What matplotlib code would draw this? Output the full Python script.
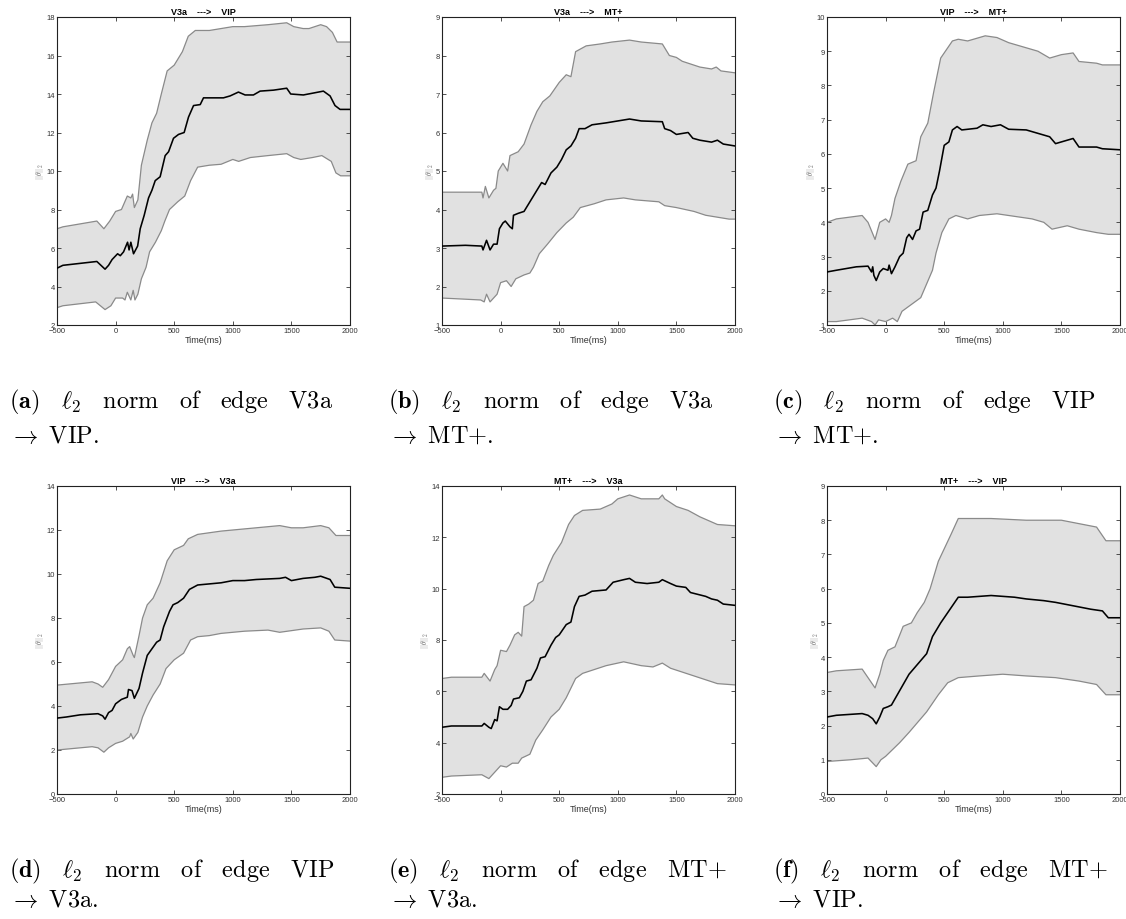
import numpy as np
import matplotlib
matplotlib.use("Agg")
import matplotlib.pyplot as plt

# data: [time (ms), ||theta||_2]
a_mean = [[-500, 4.95], [-450, 5.1], [-160, 5.3], [-90, 4.9], [-60, 5.1], [-30, 5.4], [17, 5.7], [40, 5.6],
          [68, 5.8], [102, 6.3], [115, 5.9], [130, 6.3], [153, 5.7], [188, 6.1], [210, 7.0], [244, 7.7],
          [281, 8.6], [310, 9.0], [338, 9.5], [380, 9.7], [423, 10.8], [452, 11.0], [494, 11.7], [537, 11.9],
          [585, 12.0], [622, 12.8], [665, 13.4], [722, 13.45], [750, 13.8], [920, 13.8], [977, 13.9],
          [1048, 14.1], [1105, 13.95], [1176, 13.95], [1233, 14.15], [1347, 14.2], [1460, 14.3], [1494, 14.0],
          [1602, 13.95], [1688, 14.05], [1773, 14.15], [1830, 13.9], [1872, 13.4], [1915, 13.2], [2000, 13.2]]
a_up = [[-500, 7.0], [-450, 7.1], [-160, 7.4], [-100, 7.0], [-50, 7.4], [0, 7.9], [50, 8.0], [100, 8.7],
        [130, 8.6], [145, 8.8], [160, 8.1], [190, 8.5], [220, 10.3], [270, 11.6], [310, 12.5], [350, 13.0],
        [390, 14.0], [440, 15.2], [500, 15.5], [570, 16.2], [620, 17.0], [680, 17.3], [800, 17.3], [900, 17.4],
        [1000, 17.5], [1100, 17.5], [1300, 17.6], [1460, 17.7], [1520, 17.5], [1600, 17.4], [1650, 17.4],
        [1750, 17.6], [1800, 17.5], [1850, 17.2], [1890, 16.7], [2000, 16.7]]
a_lo = [[-500, 2.9], [-450, 3.0], [-170, 3.2], [-90, 2.8], [-40, 3.0], [0, 3.4], [60, 3.4], [80, 3.3],
        [100, 3.7], [130, 3.3], [150, 3.8], [165, 3.3], [190, 3.6], [220, 4.4], [260, 5.0], [290, 5.8],
        [340, 6.3], [390, 6.9], [420, 7.4], [460, 8.0], [530, 8.4], [590, 8.7], [640, 9.5], [700, 10.2],
        [800, 10.3], [900, 10.35], [1000, 10.6], [1050, 10.5], [1150, 10.7], [1300, 10.8], [1460, 10.9],
        [1520, 10.7], [1580, 10.6], [1680, 10.7], [1760, 10.8], [1840, 10.5], [1880, 9.9], [1920, 9.75],
        [2000, 9.75]]

b_mean = [[-500, 3.05], [-300, 3.07], [-160, 3.05], [-150, 2.95], [-120, 3.2], [-90, 2.95], [-60, 3.1],
          [-30, 3.1], [-10, 3.5], [20, 3.65], [40, 3.7], [80, 3.55], [100, 3.5], [110, 3.85], [150, 3.9],
          [200, 3.95], [250, 4.2], [270, 4.3], [310, 4.5], [350, 4.7], [380, 4.65], [430, 4.95], [480, 5.1],
          [520, 5.3], [560, 5.55], [600, 5.65], [640, 5.85], [670, 6.1], [720, 6.1], [780, 6.2], [900, 6.25],
          [1000, 6.3], [1100, 6.35], [1200, 6.3], [1380, 6.28], [1400, 6.1], [1450, 6.05], [1500, 5.95],
          [1600, 6.0], [1640, 5.85], [1700, 5.8], [1800, 5.75], [1850, 5.8], [1900, 5.7], [2000, 5.65]]
b_up = [[-500, 4.45], [-160, 4.45], [-150, 4.3], [-130, 4.6], [-100, 4.3], [-60, 4.5], [-40, 4.55],
        [-20, 5.0], [20, 5.2], [60, 5.0], [80, 5.4], [150, 5.5], [200, 5.7], [260, 6.2], [310, 6.55],
        [360, 6.8], [420, 6.95], [500, 7.3], [560, 7.5], [600, 7.45], [640, 8.1], [730, 8.25], [850, 8.3],
        [950, 8.35], [1100, 8.4], [1200, 8.35], [1380, 8.3], [1440, 8.0], [1500, 7.95], [1550, 7.85],
        [1600, 7.8], [1700, 7.7], [1800, 7.65], [1840, 7.7], [1880, 7.6], [2000, 7.55]]
b_lo = [[-500, 1.7], [-300, 1.67], [-170, 1.65], [-140, 1.6], [-120, 1.8], [-90, 1.6], [-60, 1.7],
        [-30, 1.8], [0, 2.1], [50, 2.15], [90, 2.0], [130, 2.2], [200, 2.3], [250, 2.35], [280, 2.5],
        [330, 2.85], [400, 3.1], [480, 3.4], [560, 3.65], [620, 3.8], [680, 4.05], [800, 4.15], [900, 4.25],
        [1050, 4.3], [1150, 4.25], [1350, 4.2], [1400, 4.1], [1500, 4.05], [1650, 3.95], [1750, 3.85],
        [1850, 3.8], [1950, 3.75], [2000, 3.75]]

c_mean = [[-500, 2.55], [-420, 2.6], [-250, 2.7], [-150, 2.72], [-120, 2.55], [-110, 2.7], [-100, 2.45],
          [-80, 2.3], [-50, 2.55], [-20, 2.65], [20, 2.6], [30, 2.75], [50, 2.5], [80, 2.7], [120, 3.0],
          [150, 3.1], [180, 3.55], [200, 3.65], [230, 3.5], [260, 3.75], [290, 3.8], [320, 4.3], [360, 4.35],
          [400, 4.8], [430, 5.0], [460, 5.5], [500, 6.25], [540, 6.35], [570, 6.7], [610, 6.8], [650, 6.7],
          [780, 6.75], [830, 6.85], [900, 6.8], [980, 6.85], [1050, 6.72], [1200, 6.7], [1300, 6.6],
          [1400, 6.5], [1450, 6.3], [1550, 6.4], [1600, 6.45], [1650, 6.2], [1800, 6.2], [1850, 6.15],
          [2000, 6.12]]
c_up = [[-500, 4.0], [-420, 4.1], [-200, 4.2], [-150, 4.0], [-90, 3.5], [-50, 4.0], [0, 4.1], [30, 4.0],
        [50, 4.2], [80, 4.7], [130, 5.2], [190, 5.7], [260, 5.8], [300, 6.5], [360, 6.9], [410, 7.8],
        [470, 8.8], [570, 9.3], [620, 9.35], [700, 9.3], [850, 9.45], [950, 9.4], [1050, 9.25], [1100, 9.2],
        [1200, 9.1], [1300, 9.0], [1400, 8.8], [1500, 8.9], [1600, 8.95], [1650, 8.7], [1800, 8.65],
        [1850, 8.6], [2000, 8.6]]
c_lo = [[-500, 1.1], [-420, 1.1], [-200, 1.2], [-120, 1.1], [-90, 1.0], [-60, 1.15], [0, 1.1], [60, 1.2],
        [100, 1.1], [140, 1.4], [220, 1.6], [300, 1.8], [350, 2.2], [400, 2.6], [430, 3.1], [480, 3.7],
        [540, 4.1], [600, 4.2], [700, 4.1], [800, 4.2], [950, 4.25], [1050, 4.2], [1150, 4.15], [1250, 4.1],
        [1350, 4.0], [1420, 3.8], [1550, 3.9], [1650, 3.8], [1800, 3.7], [1900, 3.65], [2000, 3.65]]

d_mean = [[-500, 3.45], [-420, 3.5], [-300, 3.6], [-150, 3.65], [-110, 3.55], [-90, 3.4], [-60, 3.7],
          [-30, 3.8], [0, 4.1], [50, 4.3], [100, 4.4], [110, 4.75], [140, 4.7], [160, 4.35], [200, 4.8],
          [230, 5.5], [270, 6.3], [310, 6.6], [350, 6.9], [380, 7.0], [410, 7.6], [460, 8.3], [490, 8.6],
          [530, 8.7], [580, 8.9], [630, 9.3], [700, 9.5], [800, 9.55], [900, 9.6], [1000, 9.7], [1100, 9.7],
          [1200, 9.75], [1400, 9.8], [1450, 9.85], [1500, 9.7], [1600, 9.8], [1700, 9.85], [1750, 9.9],
          [1830, 9.75], [1870, 9.4], [2000, 9.35]]
d_up = [[-500, 4.95], [-400, 5.0], [-200, 5.1], [-150, 5.0], [-110, 4.85], [-60, 5.2], [0, 5.8], [60, 6.1],
        [100, 6.6], [120, 6.7], [150, 6.3], [160, 6.2], [200, 7.2], [230, 8.0], [270, 8.6], [320, 8.9],
        [380, 9.6], [440, 10.6], [500, 11.1], [580, 11.3], [620, 11.6], [700, 11.8], [900, 11.95],
        [1000, 12.0], [1200, 12.1], [1400, 12.2], [1500, 12.1], [1600, 12.1], [1750, 12.2], [1820, 12.1],
        [1880, 11.75], [2000, 11.75]]
d_lo = [[-500, 2.0], [-400, 2.05], [-200, 2.15], [-150, 2.1], [-100, 1.9], [-60, 2.1], [0, 2.3], [60, 2.4],
        [120, 2.6], [130, 2.75], [150, 2.5], [190, 2.8], [230, 3.5], [270, 4.0], [320, 4.5], [380, 5.0],
        [430, 5.7], [500, 6.1], [580, 6.4], [640, 7.0], [700, 7.15], [800, 7.2], [900, 7.3], [1100, 7.4],
        [1300, 7.45], [1400, 7.35], [1600, 7.5], [1750, 7.55], [1820, 7.4], [1870, 7.0], [2000, 6.95]]

e_mean = [[-500, 4.6], [-420, 4.65], [-160, 4.65], [-140, 4.75], [-100, 4.6], [-80, 4.55], [-50, 4.9],
          [-30, 4.85], [-10, 5.4], [20, 5.3], [60, 5.3], [90, 5.45], [110, 5.7], [160, 5.75], [190, 6.0],
          [220, 6.4], [260, 6.45], [310, 6.9], [340, 7.3], [380, 7.35], [430, 7.8], [470, 8.1], [500, 8.2],
          [560, 8.6], [600, 8.7], [630, 9.3], [670, 9.7], [720, 9.75], [780, 9.9], [900, 9.95], [960, 10.25],
          [1050, 10.35], [1100, 10.4], [1150, 10.25], [1250, 10.2], [1350, 10.25], [1380, 10.35],
          [1450, 10.2], [1500, 10.1], [1580, 10.05], [1620, 9.85], [1750, 9.7], [1800, 9.6], [1850, 9.55],
          [1900, 9.4], [2000, 9.35]]
e_up = [[-500, 6.5], [-420, 6.55], [-160, 6.55], [-140, 6.7], [-90, 6.4], [-50, 6.85], [-30, 7.0],
        [0, 7.6], [50, 7.55], [80, 7.8], [120, 8.2], [150, 8.3], [180, 8.15], [200, 9.3], [240, 9.4],
        [280, 9.55], [320, 10.2], [360, 10.3], [410, 10.9], [450, 11.3], [520, 11.8], [580, 12.5],
        [630, 12.85], [700, 13.05], [850, 13.1], [950, 13.3], [1000, 13.5], [1100, 13.65], [1200, 13.5],
        [1350, 13.5], [1380, 13.65], [1400, 13.5], [1500, 13.2], [1600, 13.05], [1700, 12.8], [1800, 12.6],
        [1850, 12.5], [2000, 12.45]]
e_lo = [[-500, 2.65], [-420, 2.7], [-160, 2.75], [-100, 2.6], [-50, 2.85], [0, 3.1], [50, 3.05], [100, 3.2],
        [150, 3.2], [180, 3.4], [250, 3.55], [300, 4.1], [360, 4.5], [430, 5.0], [500, 5.3], [560, 5.75],
        [640, 6.5], [700, 6.7], [800, 6.85], [900, 7.0], [1050, 7.15], [1200, 7.0], [1300, 6.95],
        [1380, 7.1], [1450, 6.9], [1550, 6.75], [1650, 6.6], [1750, 6.45], [1850, 6.3], [2000, 6.25]]

f_mean = [[-500, 2.25], [-420, 2.3], [-200, 2.35], [-150, 2.3], [-110, 2.2], [-80, 2.05], [-50, 2.25],
          [-20, 2.5], [20, 2.55], [50, 2.6], [100, 2.9], [150, 3.2], [200, 3.5], [250, 3.7], [300, 3.9],
          [350, 4.1], [400, 4.6], [470, 5.0], [530, 5.3], [620, 5.75], [700, 5.75], [900, 5.8], [1100, 5.75],
          [1200, 5.7], [1350, 5.65], [1450, 5.6], [1600, 5.5], [1750, 5.4], [1850, 5.35], [1900, 5.15],
          [2000, 5.15]]
f_up = [[-500, 3.55], [-420, 3.6], [-200, 3.65], [-150, 3.4], [-90, 3.1], [-50, 3.5], [-20, 3.9], [20, 4.2],
        [80, 4.3], [150, 4.9], [220, 5.0], [270, 5.3], [330, 5.6], [380, 6.0], [450, 6.8], [560, 7.6],
        [620, 8.05], [900, 8.05], [1200, 8.0], [1500, 8.0], [1650, 7.9], [1800, 7.8], [1880, 7.4],
        [2000, 7.4]]
f_lo = [[-500, 0.95], [-300, 1.0], [-150, 1.05], [-80, 0.8], [-40, 1.0], [0, 1.1], [60, 1.3], [120, 1.5],
        [200, 1.8], [250, 2.0], [350, 2.4], [450, 2.9], [530, 3.25], [620, 3.4], [800, 3.45], [1000, 3.5],
        [1200, 3.45], [1450, 3.4], [1650, 3.3], [1800, 3.2], [1880, 2.9], [2000, 2.9]]

titles = ["V3a    --->    VIP", "V3a    --->    MT+", "VIP    --->    MT+",
          "VIP    --->    V3a", "MT+    --->    V3a", "MT+    --->    VIP"]
ylims = [(2, 18), (1, 9), (1, 10), (0, 14), (2, 14), (0, 9)]
yticks = [range(2, 19, 2), range(1, 10), range(1, 11), range(0, 15, 2), range(2, 15, 2), range(0, 10)]
xticks = [-500, 0, 500, 1000, 1500, 2000]
captions = [("a", "V3a", "VIP"), ("b", "V3a", "MT{+}"), ("c", "VIP", "MT{+}"),
            ("d", "VIP", "V3a"), ("e", "MT{+}", "V3a"), ("f", "MT{+}", "VIP")]
series = [(a_mean, a_up, a_lo), (b_mean, b_up, b_lo), (c_mean, c_up, c_lo),
          (d_mean, d_up, d_lo), (e_mean, e_up, e_lo), (f_mean, f_up, f_lo)]

plt.rcParams['mathtext.fontset'] = 'cm'
axfont = ['Liberation Sans Narrow', 'Liberation Sans', 'DejaVu Sans']

W, H = 1126, 920
fig = plt.figure(figsize=(W / 100, H / 100), dpi=100)

lefts = [57, 442, 827]
tops = [18, 487]
aw, ah = 293, 308
cap_x = [9, 388, 773]
cap_y = [(408, 443), (877, 907)]

for i in range(6):
    row, col = divmod(i, 3)
    ax = fig.add_axes([lefts[col] / W, 1 - (tops[row] + ah) / H, aw / W, ah / H])
    mean, up, lo = [np.array(s, dtype=float) for s in series[i]]

    # shaded band between lower and upper bound
    ax.fill(np.concatenate([up[:, 0], lo[::-1, 0]]), np.concatenate([up[:, 1], lo[::-1, 1]]),
            color='#e1e1e1', lw=0, zorder=1)
    ax.plot(up[:, 0], up[:, 1], color='#8a8a8a', lw=0.9, zorder=2)
    ax.plot(lo[:, 0], lo[:, 1], color='#8a8a8a', lw=0.9, zorder=2)
    ax.plot(mean[:, 0], mean[:, 1], color='black', lw=1.15, zorder=3)

    ax.set_xlim(-500, 2000)
    ax.set_ylim(*ylims[i])
    ax.set_xticks(xticks)
    ax.set_yticks(list(yticks[i]))
    ax.tick_params(direction='in', top=True, right=True, length=3, width=0.6,
                   labelsize=5.5, pad=1.5, colors='#333333')
    for lab in ax.get_xticklabels() + ax.get_yticklabels():
        lab.set_family(axfont)
    for sp in ax.spines.values():
        sp.set_linewidth(0.8)
        sp.set_color('#222222')

    ax.set_title(titles[i], fontsize=6.5, fontweight='bold', family=axfont, pad=2)
    ax.set_xlabel("Time(ms)", fontsize=6.5, family=axfont, labelpad=1, color='#333333')
    ax.set_ylabel(r"$||\theta||_2$", fontsize=5.5, labelpad=0, color='#666666')

    letter, src, dst = captions[i]
    fig.text(cap_x[col] / W, 1 - cap_y[row][0] / H,
             r"$\mathbf{(" + letter + r")}\ \ \ \ell_2\ \ \ \mathrm{norm\ \ \ of\ \ \ edge\ \ \ " + src + "}$",
             fontsize=17.5, va='baseline', ha='left')
    fig.text(cap_x[col] / W, 1 - cap_y[row][1] / H,
             r"$\rightarrow\ \mathrm{" + dst + ".}$",
             fontsize=17.5, va='baseline', ha='left')

fig.savefig("out.png", dpi=100)
